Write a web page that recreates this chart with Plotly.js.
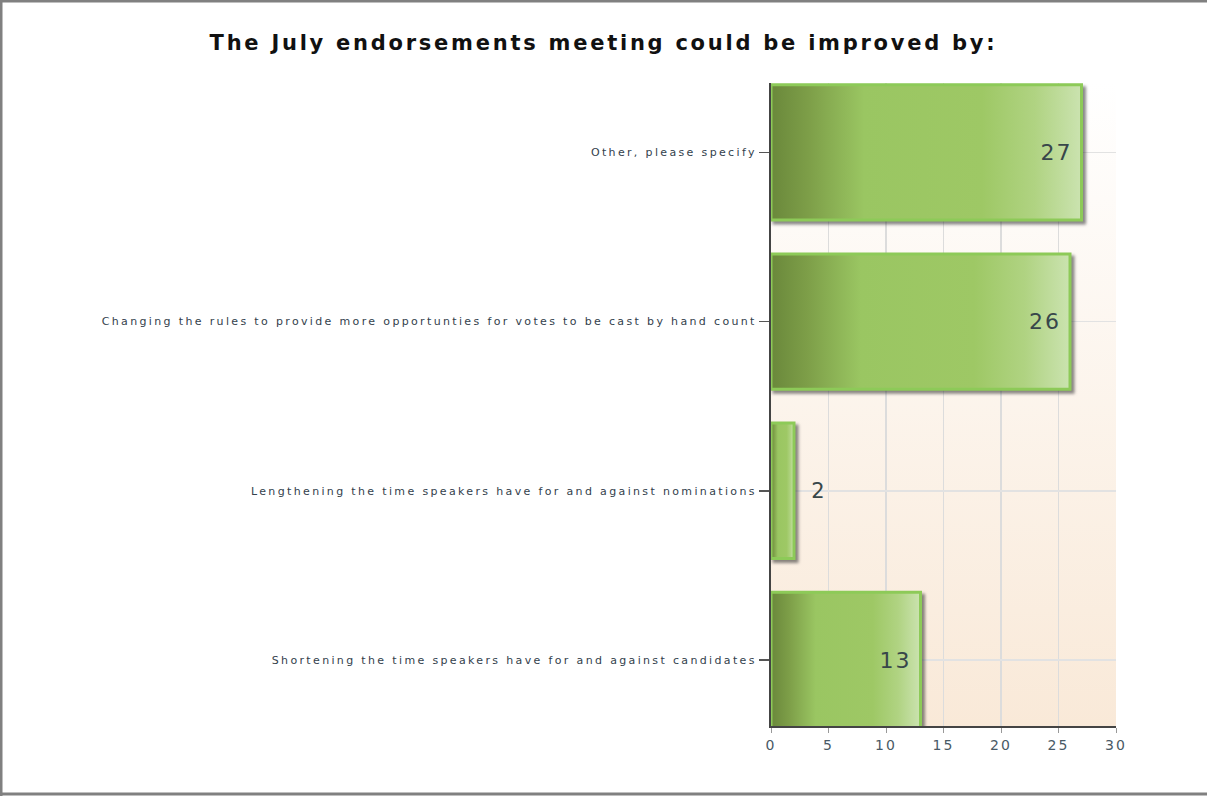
<!DOCTYPE html>
<html>
<head>
<meta charset="utf-8">
<script src="https://cdn.plot.ly/plotly-3.0.1.min.js"></script>
<style>
html,body{margin:0;padding:0;background:#fff;}
#chart{width:1207px;height:796px;}
#chart .ytick text{letter-spacing:2.35px;}
#chart .xtick text{letter-spacing:2px;}
#chart text.gtitle{letter-spacing:2.75px;}
#chart .barlayer .point path{fill:url(#barGrad) !important;filter:drop-shadow(3px 3px 1.5px rgba(40,40,40,0.55));}
#chart .barlayer text.bartext{letter-spacing:2px;}
</style>
</head>
<body>
<svg width="0" height="0" style="position:absolute">
  <defs>
    <linearGradient id="barGrad" x1="0" y1="0" x2="1" y2="0">
      <stop offset="0" stop-color="#6a883b"/>
      <stop offset="0.12" stop-color="#7d9e48"/>
      <stop offset="0.3" stop-color="#9ac662"/>
      <stop offset="0.68" stop-color="#9ec865"/>
      <stop offset="0.85" stop-color="#b0d382"/>
      <stop offset="1" stop-color="#cbe3b0"/>
    </linearGradient>
  </defs>
</svg>
<div id="chart"></div>
<script>
const categories = [
  "Shortening the time speakers have for and against candidates",
  "Lengthening the time speakers have for and against nominations",
  "Changing the rules to provide more opportunties for votes to be cast by hand count",
  "Other, please specify"
];
const counts = [13, 2, 26, 27];
const xTicks = [0, 5, 10, 15, 20, 25, 30];

const NB = '\u00a0';
const positions = counts.map(v => v >= 5 ? 'inside' : 'outside');
const templates = counts.map(v => v >= 5 ? '%{x}' + NB : NB + NB + '%{x}');

const bgSvg = '<svg xmlns="http://www.w3.org/2000/svg" width="100" height="100" preserveAspectRatio="none">' +
  '<defs><linearGradient id="g" x1="0" y1="0" x2="0" y2="1">' +
  '<stop offset="0" stop-color="#ffffff"/><stop offset="1" stop-color="#f9e9d8"/></linearGradient></defs>' +
  '<rect width="100" height="100" fill="url(#g)"/></svg>';

const FONT = 'DejaVu Sans, Verdana, sans-serif';

const trace = {
  type: 'bar',
  orientation: 'h',
  y: categories,
  x: counts,
  texttemplate: templates,
  textposition: positions,
  insidetextanchor: 'end',
  textangle: 0,
  constraintext: 'none',
  insidetextfont: {family: FONT, size: 22, color: '#38474a'},
  outsidetextfont: {family: FONT, size: 21, color: '#38474a'},
  marker: {color: '#9dc863', line: {color: '#8dca58', width: 3}},
  cliponaxis: false
};

const layout = {
  width: 1207,
  height: 796,
  paper_bgcolor: '#ffffff',
  plot_bgcolor: 'rgba(0,0,0,0)',
  margin: {l: 771, r: 91, t: 83, b: 70},
  showlegend: false,
  bargap: 0.2,
  title: {
    text: 'The July endorsements meeting could be improved by:',
    font: {family: FONT, size: 21, color: '#111111', weight: 'bold'},
    x: 0.5, xanchor: 'center', xref: 'container',
    y: 1 - 43/796, yanchor: 'middle', yref: 'container'
  },
  xaxis: {
    range: [0, 30],
    tickvals: xTicks,
    ticktext: xTicks.map(String),
    showgrid: true, gridcolor: '#dcdcdc', gridwidth: 1.5,
    zeroline: false,
    showline: true, linecolor: '#444', linewidth: 2,
    ticks: 'outside', ticklen: 5, tickcolor: '#999',
    tickfont: {family: FONT, size: 14, color: '#4a5a66'},
    fixedrange: true
  },
  yaxis: {
    range: [-0.39, 3.41],
    showgrid: true, gridcolor: '#e2e2e2', gridwidth: 1.5,
    showline: true, linecolor: '#444', linewidth: 2,
    ticks: 'outside', ticklen: 10, tickcolor: '#555', tickwidth: 1.5,
    ticklabelstandoff: 0,
    tickfont: {family: FONT, size: 11, color: '#33414c'},
    automargin: false,
    fixedrange: true
  },
  images: [{
    source: 'data:image/svg+xml;charset=utf-8,' + encodeURIComponent(bgSvg),
    xref: 'paper', yref: 'paper', x: 0, y: 1, sizex: 1, sizey: 1,
    xanchor: 'left', yanchor: 'top', sizing: 'stretch', layer: 'below'
  }],
  shapes: [
    {type: 'line', xref: 'paper', yref: 'paper', x0: -771/345, x1: (1207-771)/345, y0: 1 + 82/643, y1: 1 + 82/643, line: {color: '#808080', width: 3}},
    {type: 'line', xref: 'paper', yref: 'paper', x0: -770/345, x1: -770/345, y0: 1 + 83/643, y1: -70/643, line: {color: '#808080', width: 3}},
    {type: 'line', xref: 'paper', yref: 'paper', x0: -771/345, x1: (1207-771)/345, y0: -68/643, y1: -68/643, line: {color: '#808080', width: 3}}
  ]
};

Plotly.newPlot('chart', [trace], layout, {displayModeBar: false, staticPlot: true});
</script>
</body>
</html>
